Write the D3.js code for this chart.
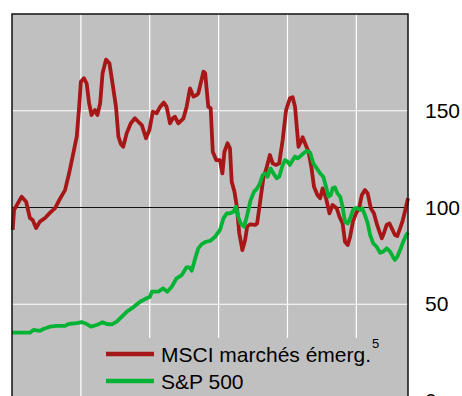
<!DOCTYPE html>
<html><head><meta charset="utf-8">
<script src="https://cdn.jsdelivr.net/npm/d3@7"></script>
<style>
html,body{margin:0;padding:0;background:#fff;}
svg{display:block;font-family:"Liberation Sans",Arial,sans-serif;}
</style></head>
<body>
<svg id="chart" width="462" height="396"></svg>
<script>
// Series names
const seriesNames = ["MSCI marchés émerg.", "S&P 500"];
const seriesFootnote = "5";
// y tick labels and x gridline years
const yTicks = [0, 50, 100, 150];
const xGridYears = [1994, 1996, 1998, 2000, 2002];

// MSCI emerging markets (decimal year, index)
const msciDates = [1992.02,1992.06,1992.28,1992.41,1992.52,1992.60,1992.70,1992.81,1992.96,1993.10,1993.25,1993.39,1993.54,1993.66,1993.76,1993.88,1993.95,1994.00,1994.09,1994.17,1994.24,1994.31,1994.41,1994.48,1994.56,1994.63,1994.73,1994.83,1994.92,1995.02,1995.09,1995.16,1995.23,1995.33,1995.45,1995.57,1995.67,1995.77,1995.89,1995.99,1996.09,1996.20,1996.30,1996.41,1996.49,1996.59,1996.67,1996.73,1996.83,1996.98,1997.07,1997.17,1997.27,1997.36,1997.41,1997.56,1997.61,1997.70,1997.77,1997.83,1997.93,1998.04,1998.11,1998.17,1998.26,1998.33,1998.38,1998.46,1998.53,1998.60,1998.69,1998.77,1998.83,1998.91,1999.06,1999.12,1999.20,1999.30,1999.40,1999.49,1999.57,1999.67,1999.76,1999.86,1999.96,2000.07,2000.15,2000.22,2000.32,2000.39,2000.44,2000.51,2000.61,2000.70,2000.77,2000.87,2000.95,2001.02,2001.12,2001.22,2001.31,2001.43,2001.51,2001.60,2001.67,2001.75,2001.82,2001.90,2001.99,2002.08,2002.16,2002.25,2002.33,2002.42,2002.51,2002.59,2002.67,2002.74,2002.80,2002.88,2002.96,2003.03,2003.12,2003.19,2003.27,2003.35,2003.41,2003.50];
const msciValues = [88.4,98.7,105.6,103,94.6,93.5,89.4,92.7,94.6,97.2,99.7,104.4,109,117.8,126.3,136.6,152,165,166.8,164,153.8,147.8,150.4,147.8,153.8,169.4,176.4,174.5,164,152,136.6,132.8,131.4,138.3,143.5,146.1,144.3,142.6,135.8,140,149.5,148.7,152,154.2,152,143.5,146.1,146.9,143.5,146.1,152,161.6,157.3,158.1,159,170.2,169.4,152,151.3,128.8,124.5,124.5,117.6,128.8,133.2,130.6,113.3,108.2,100.4,86.7,78,83.2,90.1,91.3,91,91.8,102.2,115.1,121.1,127.1,122.8,122,122.8,134.9,150.4,156.4,157,152,131.4,134,136.3,133.2,128.8,120.2,110.7,106.5,104.8,109.9,104.8,97,101.3,99.6,95.2,91.8,82.3,80.6,84.9,92.7,97,99.6,106.5,109,107.3,99.6,97,91.8,87.5,84.1,86.7,91,91.8,89.2,85.8,85.3,89.2,93.5,97.8,104.8];

// S&P 500 (decimal year, index)
const spDates = [1992.00,1992.52,1992.62,1992.81,1992.91,1993.10,1993.30,1993.54,1993.64,1993.88,1994.02,1994.17,1994.29,1994.46,1994.63,1994.75,1994.90,1995.04,1995.19,1995.33,1995.52,1995.72,1995.91,1996.01,1996.06,1996.25,1996.39,1996.51,1996.64,1996.78,1996.93,1997.07,1997.15,1997.22,1997.32,1997.41,1997.51,1997.63,1997.75,1997.90,1998.04,1998.14,1998.24,1998.33,1998.43,1998.51,1998.57,1998.64,1998.74,1998.83,1998.93,1999.03,1999.12,1999.20,1999.28,1999.35,1999.42,1999.51,1999.59,1999.69,1999.76,1999.86,1999.93,2000.00,2000.07,2000.15,2000.22,2000.29,2000.36,2000.44,2000.56,2000.66,2000.75,2000.85,2000.95,2001.04,2001.12,2001.19,2001.26,2001.31,2001.38,2001.45,2001.53,2001.60,2001.67,2001.75,2001.82,2001.90,2001.96,2002.03,2002.11,2002.17,2002.25,2002.33,2002.40,2002.49,2002.59,2002.69,2002.78,2002.88,2002.98,2003.06,2003.12,2003.19,2003.27,2003.36,2003.45,2003.50];
const spValues = [35.3,35.3,36.7,36.2,37.2,38.4,38.8,38.8,39.8,40.2,40.8,39.8,38.4,39.3,40.7,39.8,39.6,41,43.6,46.1,48.4,51.3,53.1,53.9,56.5,56.5,58.2,56.5,59.1,63.4,65.1,69.1,69.1,67.3,73.7,78.9,81.1,82.3,82.7,84.9,88.4,94.4,97,97,97.8,100.4,95.2,91.8,90.1,96.1,103.9,108.2,109.9,112.5,116.8,117.6,115.9,120.2,117.6,115.1,115.9,122,124.5,123.7,122,124.5,126.3,125.4,126.3,127.6,129.3,128.3,122.8,120.2,117.6,115.9,110.7,105.6,106.5,109.9,110.4,107.3,105.6,100.4,92.7,91.8,94.4,98.7,99.6,99.6,98.7,99.6,96.1,91.8,85.8,81.5,79.7,76.6,77.2,78.9,77.2,74.6,72.9,74.6,78,82.3,85.8,87];

const colors = ["#a81717", "#05b334"];

const svg = d3.select("#chart");
const L = 12, R = 408, T = 14, B = 401;
const x = d3.scaleLinear().domain([1992, 2003.5]).range([L, R]);
const y = d3.scaleLinear().domain([0, 200]).range([B, T]);

// plot background
svg.append("rect").attr("x", L).attr("y", T).attr("width", R - L).attr("height", 396 - T).attr("fill", "#c0c0c0");

// vertical gridlines
svg.append("g").selectAll("line").data(xGridYears).join("line")
  .attr("x1", d => x(d)).attr("x2", d => x(d))
  .attr("y1", T).attr("y2", 396)
  .attr("stroke", "#fff").attr("stroke-width", 1.2);

// horizontal gridlines
svg.append("g").selectAll("line").data(yTicks.filter(d => d !== 100 && d !== 0)).join("line")
  .attr("x1", L).attr("x2", R)
  .attr("y1", d => y(d)).attr("y2", d => y(d))
  .attr("stroke", "#fff").attr("stroke-width", 1.2);

// legend background covering gridlines
svg.append("rect").attr("x", 98).attr("y", 338).attr("width", R - 98).attr("height", 60).attr("fill", "#c0c0c0");

// baseline at 100
svg.append("line").attr("x1", L).attr("x2", R).attr("y1", y(100)).attr("y2", y(100))
  .attr("stroke", "#111").attr("stroke-width", 1);

const line = d3.line().x(d => x(d[0])).y(d => y(d[1]));
const msci = msciDates.map((t, i) => [t, msciValues[i]]);
const sp = spDates.map((t, i) => [t, spValues[i]]);

svg.append("path").datum(msci).attr("d", line).attr("fill", "none")
  .attr("stroke", colors[0]).attr("stroke-width", 3.8).attr("stroke-linejoin", "round");
svg.append("path").datum(sp).attr("d", line).attr("fill", "none")
  .attr("stroke", colors[1]).attr("stroke-width", 3.8).attr("stroke-linejoin", "round");

// borders
svg.append("path").attr("d", `M${L},396V${T}H${R}V396`).attr("fill", "none")
  .attr("stroke", "#111").attr("stroke-width", 1.5);

// right axis labels
const axis = d3.axisRight(y).tickValues(yTicks).tickSize(0).tickPadding(17).tickFormat(d3.format("d"));
const ag = svg.append("g").attr("transform", `translate(${R},0)`).call(axis);
ag.select(".domain").remove();
ag.selectAll("text").attr("font-size", 21).attr("fill", "#000")
  .attr("font-family", "'Liberation Sans', Arial, sans-serif");

// legend
const lg = svg.append("g");
const legY = [354, 381];
seriesNames.forEach((name, i) => {
  lg.append("line").attr("x1", 106).attr("x2", 154).attr("y1", legY[i]).attr("y2", legY[i])
    .attr("stroke", colors[i]).attr("stroke-width", 4.5);
  const t = lg.append("text").attr("x", 161).attr("y", legY[i] + 8)
    .attr("font-size", 21).attr("fill", "#000").text(name);
  if (i === 0) {
    t.append("tspan").attr("font-size", 13).attr("dy", -14).attr("dx", 1).text(seriesFootnote);
  }
});
</script>
</body></html>
